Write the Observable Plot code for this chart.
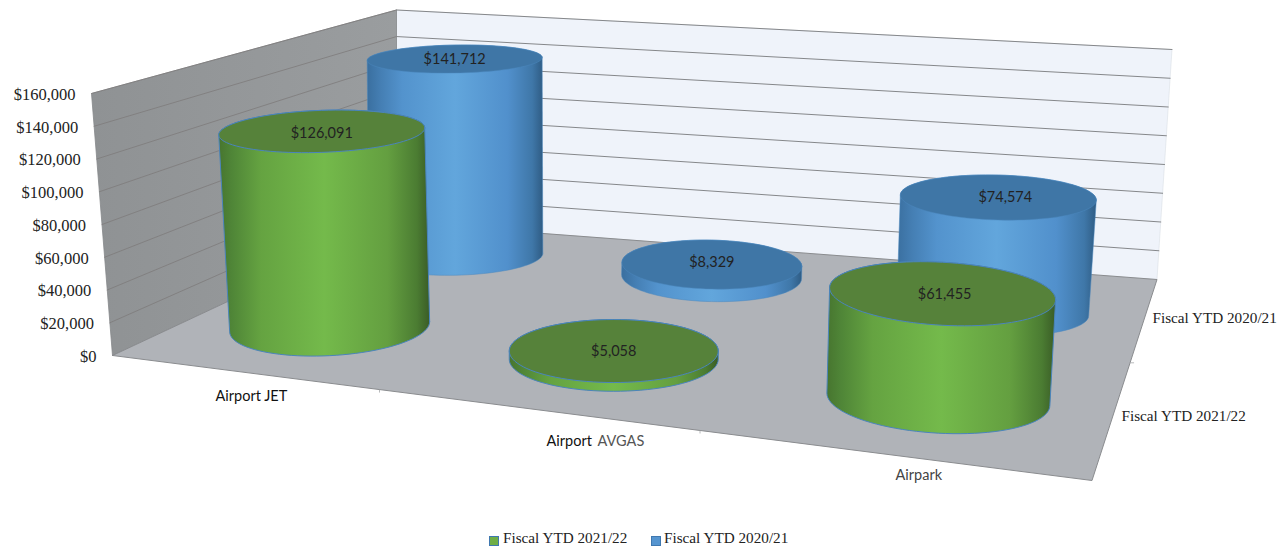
<!DOCTYPE html>
<html><head><meta charset="utf-8">
<script src="https://cdn.jsdelivr.net/npm/d3@7"></script>
<script src="https://cdn.jsdelivr.net/npm/@observablehq/plot@0.6"></script>
<style>
html,body{margin:0;padding:0;background:#fff;overflow:hidden}
#legend{position:absolute;left:0;top:528px;width:1286px;height:18px;font:15.2px "Liberation Serif",serif;color:#222}
#legend span{position:absolute;top:1px;white-space:nowrap}
#legend i{position:absolute;top:8px;width:8px;height:8px;border:1px solid #3f78b0}
</style></head><body>
<div id="chart"></div><div id="legend"></div>
<script>
const categories = ["Airport JET", "Airport AVGAS", "Airpark"];
const seriesNames = ["Fiscal YTD 2021/22", "Fiscal YTD 2020/21"];
const values2122 = [126091, 5058, 61455];
const values2021 = [141712, 8329, 74574];
const yTicks = [0, 20000, 40000, 60000, 80000, 100000, 120000, 140000, 160000];
const yMax = 160000;

// layout of the 3D box as seen in the picture: (u along categories, v depth, w height)
const floorCorners = [[112,355],[1091.5,480],[1156.5,279],[396,222]];
const cornerLean = [-21,16,15,0], cornerHeight = [262,296,230,212.5], cylinderHeight = [254,296,230,206.5];
const unit = [[0,0],[1,0],[1,1],[0,1]];
// floor position of each cylinder: [series][category]
const posU = [[0.173,0.518,0.848],[0.166,0.513,0.848]];
const posV = [[0.265,0.258,0.24],[0.78,0.78,0.71]];
// ellipse half-widths, half-heights and tilt: [series][category]
const topShape = [[[103,21,-3.5],[104.5,31.5,0],[113,31.5,6]],[[87.5,14,-1.5],[90,24.5,2],[98,22.5,2.5]]];
const baseShape = [[[100,29,-5],[104.5,32,0],[111.5,34,6]],[[87,20,-2],[90,25,2],[96,24,4]]];
const labelDx = [[0,0,2],[0,0,7]], labelDy = [[2,0,1],[0,-2,0]];

function solve(A,b){ // gaussian elimination
  const n=b.length, M=A.map((r,i)=>[...r,b[i]]);
  for(let i=0;i<n;i++){
    let p=i; for(let k=i+1;k<n;k++) if(Math.abs(M[k][i])>Math.abs(M[p][i])) p=k;
    [M[i],M[p]]=[M[p],M[i]];
    for(let k=i+1;k<n;k++){const f=M[k][i]/M[i][i]; for(let j=i;j<=n;j++) M[k][j]-=f*M[i][j];}
  }
  const x=Array(n);
  for(let i=n-1;i>=0;i--){let s=M[i][n]; for(let j=i+1;j<n;j++) s-=M[i][j]*x[j]; x[i]=s/M[i][i];}
  return x;
}
function homography(pts){
  const A=[],B=[];
  pts.forEach(([x,y],n)=>{const [u,v]=unit[n];
    A.push([u,v,1,0,0,0,-x*u,-x*v]);B.push(x);
    A.push([0,0,0,u,v,1,-y*u,-y*v]);B.push(y);});
  const [a,b,c,d,e,f,g,h]=solve(A,B);
  return (u,v)=>{const D=g*u+h*v+1;return [(a*u+b*v+c)/D,(d*u+e*v+f)/D];};
}
const Hfloor=homography(floorCorners);
const bilinear=([p00,p10,p11,p01],u,v)=>(p00*(1-u)+p10*u)*(1-v)+(p01*(1-u)+p11*u)*v;
function project(u,v,val,heights=cornerHeight){
  const w=val/yMax,[x0,y0]=Hfloor(u,v);
  return {x:x0+bilinear(cornerLean,u,v)*w,y:y0-bilinear(heights,u,v)*w};
}
const poly=(pts)=>pts.map(([u,v,val])=>project(u,v,val));
const backWall=poly([[0,1,0],[1,1,0],[1,1,yMax],[0,1,yMax]]);
const leftWall=poly([[0,0,0],[0,1,0],[0,1,yMax],[0,0,yMax]]);
const floor=poly([[0,0,0],[1,0,0],[1,1,0],[0,1,0]]);
const gridLeft=yTicks.slice(1).flatMap(t=>poly([[0,0,t],[0,1,t]]).map(p=>({...p,t})));
const gridBack=yTicks.slice(1).flatMap(t=>poly([[0,1,t],[1,1,t]]).map(p=>({...p,t})));
const floorTicks=[[1,0.5,4,0],[1/3,0,0,3],[2/3,0,0,3]].map(([u,v,ox,oy])=>{
  const p=project(u,v,0);return {x1:p.x,y1:p.y,x2:p.x+ox,y2:p.y+oy};
});

const ring=(c,[rx,ry,tilt])=>d3.range(0,96).map(n=>{
  const t=n/96*2*Math.PI;
  return {x:c.x+rx*Math.cos(t),y:c.y+ry*Math.sin(t)+tilt*Math.cos(t)};
});
function cylinder(ci,si,val){
  const u=posU[si][ci], v=posV[si][ci];
  const ct=project(u,v,val,cylinderHeight), cb=project(u,v,0);
  const base=ring(cb,baseShape[si][ci]), top=ring(ct,topShape[si][ci]);
  const hull=d3.polygonHull([...base,...top].map(p=>[p.x,p.y])).map(([x,y])=>({x,y}));
  return {body:hull,top,label:{x:ct.x+labelDx[si][ci],y:ct.y+labelDy[si][ci],text:d3.format("$,")(val)}};
}
const closed=a=>[...a,a[0]];
const palette=[{body:"url(#gBody)",top:"#56823a",stroke:"#4a84bd"},{body:"url(#bBody)",top:"#3f76a6",stroke:"#4c88bf"}];
const cylMarks=[];
const labels=[];
[[1,values2021],[0,values2122]].forEach(([si,vals])=>{
  vals.forEach((val,ci)=>{
    const c=cylinder(ci,si,val), p=palette[si];
    cylMarks.push(Plot.line(closed(c.body),{x:"x",y:"y",fill:p.body,stroke:p.stroke,strokeWidth:si?0.5:1,curve:"linear"}));
    cylMarks.push(Plot.line(closed(c.top),{x:"x",y:"y",fill:p.top,stroke:p.stroke,strokeWidth:si?0.5:1,curve:"linear"}));
    labels.push(c.label);
  });
});
const defs=()=>{
  const s=d3.create("svg:defs");
  const g=(id,stops)=>{const l=s.append("linearGradient").attr("id",id);
    stops.forEach(([o,c])=>l.append("stop").attr("offset",o).attr("stop-color",c));};
  g("gBody",[[0,"#47752f"],[.06,"#4f8537"],[.2,"#65a341"],[.5,"#74ba4b"],[.8,"#649f40"],[.94,"#4b7c32"],[1,"#3a5c26"]]);
  g("bBody",[[0,"#3a6f9f"],[.08,"#457fb4"],[.2,"#5393cd"],[.5,"#62a6dc"],[.8,"#5190cc"],[.94,"#3f77a8"],[1,"#2f5c84"]]);
  g("wall",[[0,"#8f9294"],[1,"#9a9d9f"]]);
  return s.node();
};
const tickData=yTicks.map(t=>({...project(0,0,t),text:d3.format("$,")(t)}));
const catLabels=[
  {x:215,y:396,text:"Airport JET",fill:"#111"},
  {x:546,y:441,text:"Airport",fill:"#111"},
  {x:597,y:441,text:"AVGAS",fill:"#555"},
  {x:895,y:475,text:"Airpark",fill:"#444"}
];
const serLabels=[
  {x:1121,y:416,text:seriesNames[0]},
  {x:1152,y:318,text:seriesNames[1]}
];
const sans='Lato, "Open Sans", sans-serif', serif='"Liberation Serif", serif';
const chart=Plot.plot({
  width:1286,height:528,margin:0,
  x:{type:"identity",axis:null},y:{type:"identity",axis:null},
  style:{background:"transparent"},
  marks:[
    defs,
    Plot.line(closed(backWall),{x:"x",y:"y",fill:"#eff3fa",stroke:"#d5dae0",strokeWidth:0.5}),
    Plot.line(closed(leftWall),{x:"x",y:"y",fill:"url(#wall)",stroke:"#85888a",strokeWidth:0.8}),
    Plot.line(gridLeft,{x:"x",y:"y",z:"t",stroke:"#7d7b7b",strokeWidth:0.8}),
    Plot.line(gridBack,{x:"x",y:"y",z:"t",stroke:"#85878a",strokeWidth:1}),
    Plot.line(closed(floor),{x:"x",y:"y",fill:"#b0b3b8",stroke:"#8a8c8f",strokeWidth:1}),
    Plot.link(floorTicks,{x1:"x1",y1:"y1",x2:"x2",y2:"y2",stroke:"#a5a7aa",strokeWidth:0.8}),
    ...cylMarks,
    Plot.text(labels,{x:"x",y:"y",text:"text",fontFamily:sans,fontSize:14.5,fill:"#222"}),
    Plot.text(tickData,{x:"x",y:"y",text:"text",textAnchor:"end",dx:-16,dy:1,fontFamily:serif,fontSize:16.5,fill:"#222"}),
    Plot.text(catLabels,{x:"x",y:"y",text:"text",textAnchor:"start",fill:"fill",fontFamily:sans,fontSize:14.5}),
    Plot.text(serLabels,{x:"x",y:"y",text:"text",textAnchor:"start",fontFamily:serif,fontSize:15.2,fill:"#222"})
  ]
});
document.getElementById("chart").appendChild(chart);
const leg=document.getElementById("legend");
[[489,503,"#6fae46",seriesNames[0]],[651,664,"#5595d0",seriesNames[1]]].forEach(([sx,tx,col,name])=>{
  const i=document.createElement("i");i.style.left=sx+"px";i.style.background=col;leg.appendChild(i);
  const t=document.createElement("span");t.style.left=tx+"px";t.textContent=name;leg.appendChild(t);
});
</script>
</body></html>
